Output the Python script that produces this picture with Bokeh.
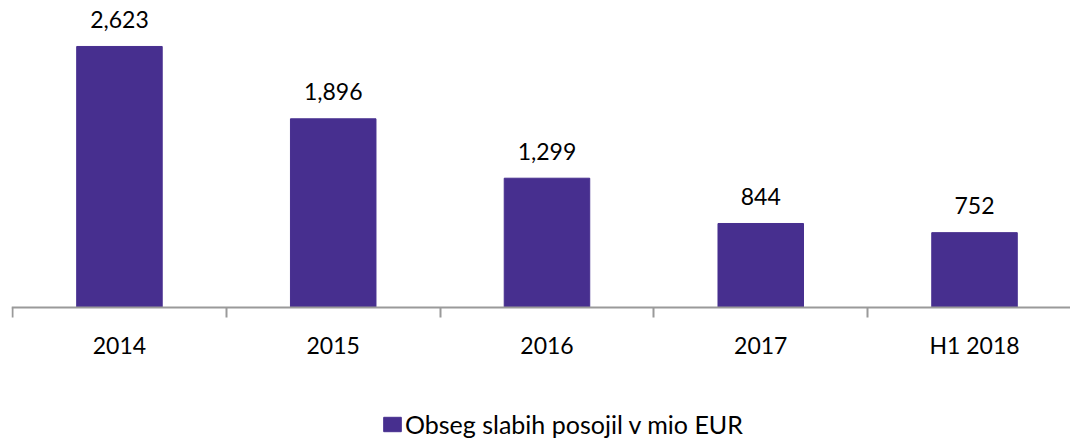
from bokeh.plotting import figure
from bokeh.models import ColumnDataSource, Range1d, FixedTicker, Legend, LegendItem
from bokeh.core.properties import value
from bokeh.embed import file_html
from bokeh.resources import INLINE

categories = ["2014", "2015", "2016", "2017", "H1 2018"]
values = [2623, 1896, 1299, 844, 752]
value_labels = ["2,623", "1,896", "1,299", "844", "752"]
series_name = "Obseg slabih posojil v mio EUR"

FONT = "Lato"
BAR = "#472F8F"

xs = [i + 0.5 for i in range(len(categories))]
src = ColumnDataSource(dict(x=xs, top=values, lab=value_labels))

p = figure(width=1070, height=441, output_backend="svg", toolbar_location=None,
           x_range=Range1d(-0.005, 4.949), y_range=Range1d(-1347, 3085),
           min_border_left=11, min_border_right=0, min_border_top=0, min_border_bottom=0)
p.outline_line_color = None
p.grid.visible = False
p.yaxis.visible = False
p.background_fill_color = "white"
p.border_fill_color = "white"

bars = p.vbar(x="x", top="top", bottom=0, width=0.40, source=src,
              fill_color=BAR, line_color=BAR)

p.text(x="x", y="top", text="lab", source=src, text_align="center",
       text_baseline="alphabetic", y_offset=-27, text_font=value(FONT),
       text_font_size="23px", text_color="black")

ax = p.xaxis[0]
ax.fixed_location = 0
ax.ticker = FixedTicker(ticks=xs, minor_ticks=list(range(len(categories) + 1)))
ax.major_label_overrides = {x: c for x, c in zip(xs, categories)}
ax.major_tick_line_color = None
ax.major_tick_out = 0
ax.major_tick_in = 0
ax.minor_tick_out = 10
ax.minor_tick_in = 0
ax.minor_tick_line_color = "#9A9A9A"
ax.minor_tick_line_width = 2
ax.axis_line_color = "#9A9A9A"
ax.axis_line_width = 2
ax.major_label_standoff = 14
ax.major_label_text_font = FONT
ax.major_label_text_font_size = "23px"
ax.major_label_text_color = "black"

legend = Legend(items=[LegendItem(label=series_name, renderers=[bars])],
                location=(370, 2), orientation="horizontal",
                padding=0, margin=0, border_line_color=None,
                background_fill_alpha=0, glyph_width=22, glyph_height=18,
                label_height=18, label_standoff=2, label_text_font=FONT,
                label_text_font_size="25px", label_text_color="black")
p.add_layout(legend, "center")

open("out.html", "w").write(file_html(p, INLINE))
